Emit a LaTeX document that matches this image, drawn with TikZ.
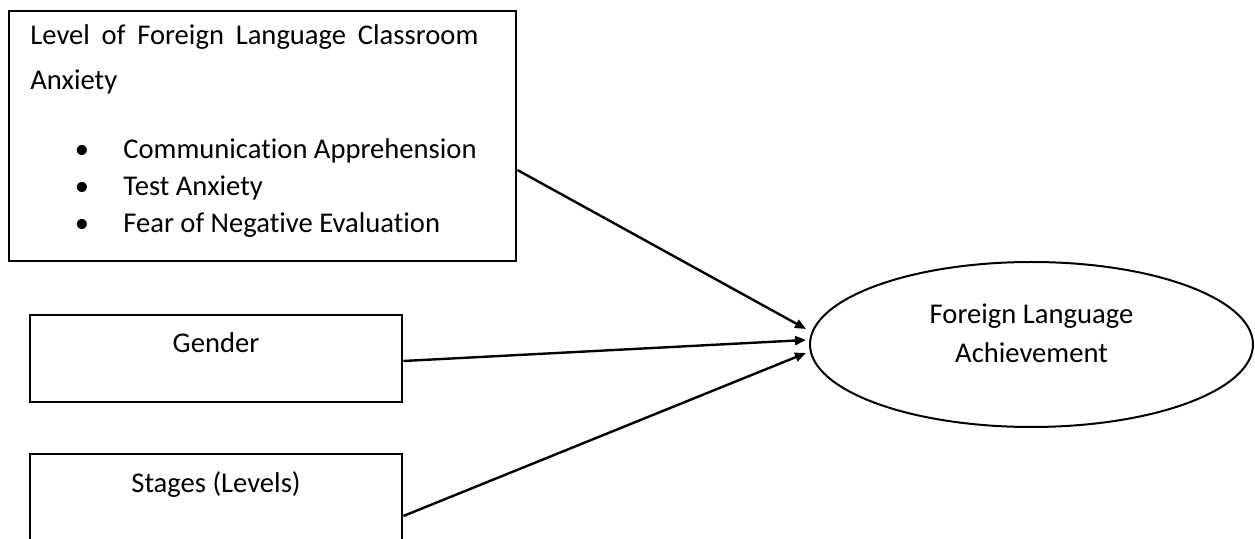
\documentclass[tikz,border=0pt]{standalone}
\usepackage{fontspec}
\setmainfont{Carlito}[Ligatures=NoCommon]
\usetikzlibrary{arrows.meta,calc,shapes.geometric}

\tikzset{
    factor/.style={draw, line width=1.4pt, rectangle, inner sep=0pt},
    outcome/.style={draw, line width=1pt, ellipse, inner sep=0pt},
    word/.style={inner sep=0pt, font=\fontsize{14.3pt}{17pt}\selectfont},
    link/.style={line width=1.2pt, -{Triangle[length=5.5pt,width=4.5pt]}}
}

\begin{document}
\begin{tikzpicture}[x=0.5pt, y=-0.5pt]
    \clip (0,0) rectangle (1255,539);

    % boxes
    \node[factor, minimum width=253.5pt, minimum height=125pt] (anxiety) at (262.5,136) {};
    \node[factor, minimum width=186pt, minimum height=43.5pt] (gender) at (216,358.5) {};
    \node[factor, minimum width=186pt, minimum height=63pt] (stages) at (216,517) {};
    \node[outcome, minimum width=221.5pt, minimum height=82.5pt] (fla) at (1031.5,344.5) {};

    % texts
    \node[word, anchor=north west, text width=224pt, align=justify,
          font=\fontsize{14.3pt}{22.5pt}\selectfont] (title) at (30,24)
        {Level of Foreign Language Classroom Anxiety};
    \foreach \y/\t [count=\i] in {159/Communication Apprehension, 196/Test Anxiety,
                                  233/Fear of Negative Evaluation} {
        \node[word, anchor=base] (dot\i) at (82,\y) {•};
        \node[word, anchor=base west] (item\i) at (123,\y) {\t};
    }
    \node[word, anchor=base] (gtext) at (216,353) {Gender};
    \node[word, anchor=base] (stext) at (216,493) {Stages (Levels)};
    \node[word, align=center, font=\fontsize{14.3pt}{19.5pt}\selectfont] (ftext)
        at (1031.5,333) {Foreign Language\\Achievement};

    % arrows
    \draw[link] ($(anxiety.east)+(0,34)$) -- ($(fla.west)+(-3,-15.5)$);
    \draw[link] ($(gender.east)+(0,2.5)$) -- ($(fla.west)+(-3,-4.5)$);
    \draw[link] ($(stages.east)+(0,-1)$) -- ($(fla.west)+(-3,8.5)$);
\end{tikzpicture}
\end{document}
